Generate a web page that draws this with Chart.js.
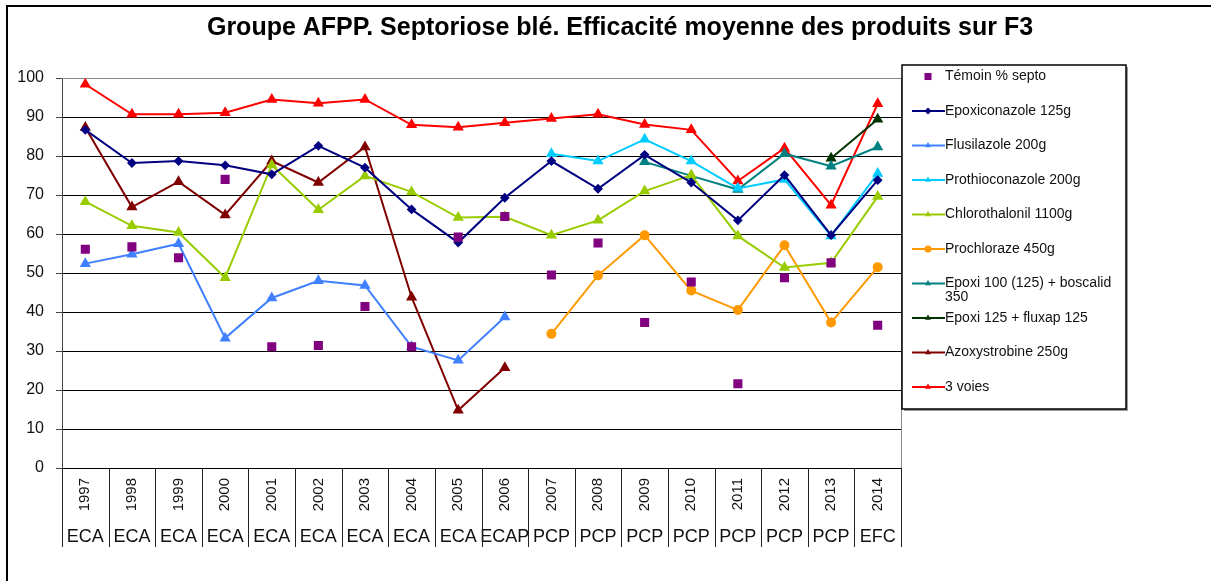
<!DOCTYPE html>
<html>
<head>
<meta charset="utf-8">
<script src="https://cdn.jsdelivr.net/npm/chart.js@4"></script>
<style>
  body { margin: 0; background: #fff; }
  canvas { display: block; }
</style>
</head>
<body>
<canvas id="chart" width="1211" height="581"></canvas>
<script>
const years = ["1997", "1998", "1999", "2000", "2001", "2002", "2003", "2004", "2005",
  "2006", "2007", "2008", "2009", "2010", "2011", "2012", "2013", "2014"];
const groups = ["ECA", "ECA", "ECA", "ECA", "ECA", "ECA", "ECA", "ECA", "ECA",
  "ECAP", "PCP", "PCP", "PCP", "PCP", "PCP", "PCP", "PCP", "EFC"];
const yTicks = [0, 10, 20, 30, 40, 50, 60, 70, 80, 90, 100];

const temoin = [56.1, 56.7, 53.9, 74, 31.1, 31.4, 41.4, 31.1, 59.2, 64.5, 49.5, 57.7, 37.3, 47.7, 21.6, 48.8, 52.6, 36.6];
const epoxiconazole = [86.7, 78.2, 78.7, 77.6, 75.3, 82.6, 77, 66.3, 57.8, 69.3, 78.7, 71.6, 80.3, 73.2, 63.5, 75.1, 59.7, 73.8];
const flusilazole = [52.4, 54.8, 57.5, 33.3, 43.6, 48, 46.8, 31.1, 27.6, 38.7, null, null, null, null, null, null, null, null];
const prothioconazole = [null, null, null, null, null, null, null, null, null, null, 80.6, 78.7, 84.3, 78.7, 71.7, 74, 59.5, 75.5];
const chlorothalonil = [68.3, 62.1, 60.4, 48.8, 77.7, 66.2, 74.9, 70.8, 64.2, 64.4, 59.7, 63.5, 71, 75.1, 59.5, 51.4, 52.6, 69.6];
const prochloraze = [null, null, null, null, null, null, null, null, null, null, 34.4, 49.4, 59.7, 45.5, 40.5, 57.1, 37.3, 51.5];
const epoxiBoscalid = [null, null, null, null, null, null, null, null, null, null, null, null, 78.5, 74.9, 71.4, 80.6, 77.4, 82.3];
const epoxiFluxap = [null, null, null, null, null, null, null, null, null, null, null, null, null, null, null, null, 79.4, 89.4];
const azoxystrobine = [87.3, 66.9, 73.4, 64.9, 78.7, 73.2, 82.3, 43.8, 14.8, 25.7, null, null, null, null, null, null, null, null];
const troisVoies = [98.4, 90.7, 90.7, 91.1, 94.5, 93.5, 94.5, 88, 87.4, 88.5, 89.6, 90.7, 88.1, 86.7, 73.6, 82, 67.4, 93.4];

const FONT = "'Liberation Sans', Arial, sans-serif";

function serie(label, data, color, style, radius) {
  return {
    label: label,
    data: data,
    borderColor: color,
    backgroundColor: color,
    pointBackgroundColor: color,
    pointBorderColor: color,
    pointStyle: style,
    pointRadius: radius,
    pointHoverRadius: radius,
    borderWidth: 2,
    tension: 0,
    spanGaps: false,
  };
}

function marker(ctx, style, x, y, r) {
  ctx.beginPath();
  if (style === "rect") {
    const s = r * Math.SQRT1_2;
    ctx.rect(x - s, y - s, 2 * s, 2 * s);
  } else if (style === "rectRot") {
    ctx.moveTo(x, y - r); ctx.lineTo(x + r, y); ctx.lineTo(x, y + r); ctx.lineTo(x - r, y);
  } else if (style === "triangle") {
    ctx.moveTo(x, y - r);
    ctx.lineTo(x + r * 0.866, y + r * 0.5);
    ctx.lineTo(x - r * 0.866, y + r * 0.5);
  } else {
    ctx.arc(x, y, r, 0, Math.PI * 2);
  }
  ctx.closePath();
  ctx.fill();
}

// cadre, titre, bordures de la zone de tracé
const decor = {
  id: "decor",
  beforeDraw(chart) {
    const ctx = chart.ctx;
    ctx.save();
    ctx.strokeStyle = "#000";
    ctx.lineWidth = 2;
    ctx.beginPath();
    ctx.moveTo(7, 581); ctx.lineTo(7, 6); ctx.lineTo(1211, 6);
    ctx.stroke();
    ctx.fillStyle = "#000";
    ctx.font = "bold 25px " + FONT;
    ctx.textAlign = "center";
    ctx.textBaseline = "middle";
    ctx.fillText("Groupe AFPP. Septoriose blé. Efficacité moyenne des produits sur F3", 620, 28);
    ctx.restore();
  },
  beforeDatasetsDraw(chart) {
    const ctx = chart.ctx;
    const a = chart.chartArea;
    const xs = chart.scales.x;
    const step = xs.getPixelForValue(1) - xs.getPixelForValue(0);
    ctx.save();
    ctx.lineWidth = 1;
    ctx.strokeStyle = "#222";
    ctx.beginPath();
    for (let i = 0; i <= years.length; i++) {
      const px = Math.round(xs.getPixelForValue(i) - step / 2) + 0.5;
      ctx.moveTo(px, a.bottom);
      ctx.lineTo(px, 547);
    }
    ctx.stroke();
    ctx.strokeStyle = "#888";
    ctx.beginPath();
    ctx.moveTo(a.left, Math.round(a.top) + 0.5);
    ctx.lineTo(Math.round(a.right) + 0.5, Math.round(a.top) + 0.5);
    ctx.lineTo(Math.round(a.right) + 0.5, a.bottom);
    ctx.stroke();
    ctx.restore();
  },
  afterDraw(chart) {
    const ctx = chart.ctx;
    const L = 902, T = 65, R = 1126, B = 409;
    ctx.save();
    ctx.fillStyle = "#999";
    ctx.fillRect(L + 2, T + 2, R - L, B - T);
    ctx.fillStyle = "#fff";
    ctx.fillRect(L, T, R - L, B - T);
    ctx.strokeStyle = "#000";
    ctx.lineWidth = 1.5;
    ctx.strokeRect(L, T, R - L, B - T);
    ctx.font = "14px " + FONT;
    ctx.textBaseline = "middle";
    ctx.textAlign = "left";
    chart.data.datasets.forEach((ds, i) => {
      const y = 76.5 + i * 34.5;
      ctx.fillStyle = ds.borderColor;
      ctx.strokeStyle = ds.borderColor;
      if (ds.showLine !== false) {
        ctx.lineWidth = 2;
        ctx.beginPath();
        ctx.moveTo(912, y); ctx.lineTo(945, y);
        ctx.stroke();
      }
      marker(ctx, ds.pointStyle, 928, y, ds.pointStyle === "rect" ? 5 : 3.5);
      // retour à la ligne simple
      ctx.fillStyle = "#111";
      const words = ds.label.split(" ");
      let line = "";
      let ly = y;
      words.forEach((w) => {
        const test = line ? line + " " + w : w;
        if (ctx.measureText(test).width > 176 && line) {
          ctx.fillText(line, 945, ly);
          line = w;
          ly += 14;
        } else {
          line = test;
        }
      });
      ctx.fillText(line, 945, ly);
    });
    ctx.restore();
  },
};

function chartIt() {
  const ctx = document.getElementById("chart");
  const temoinSet = serie("Témoin % septo", temoin, "#800080", "rect", 5);
  temoinSet.showLine = false;

  new Chart(ctx, {
    type: "line",
    data: {
      labels: years,
      datasets: [
        temoinSet,
        serie("Epoxiconazole 125g", epoxiconazole, "#000080", "rectRot", 3.5),
        serie("Flusilazole 200g", flusilazole, "#4080ff", "triangle", 4.5),
        serie("Prothioconazole 200g", prothioconazole, "#00ccff", "triangle", 4.5),
        serie("Chlorothalonil 1100g", chlorothalonil, "#99cc00", "triangle", 4.5),
        serie("Prochloraze 450g", prochloraze, "#ff9900", "circle", 4),
        serie("Epoxi 100 (125) + boscalid 350", epoxiBoscalid, "#008080", "triangle", 4.5),
        serie("Epoxi 125 + fluxap 125", epoxiFluxap, "#003300", "triangle", 4.5),
        serie("Azoxystrobine 250g", azoxystrobine, "#800000", "triangle", 4.5),
        serie("3 voies", troisVoies, "#ff0000", "triangle", 4.5),
      ],
    },
    options: {
      responsive: false,
      animation: false,
      layout: { padding: { left: 0, top: 78, right: 310, bottom: 28 } },
      plugins: {
        legend: { display: false },
        title: { display: false },
        tooltip: { enabled: false },
      },
      scales: {
        y: {
          min: 0,
          max: 100,
          afterBuildTicks: (s) => { s.ticks = yTicks.map((v) => ({ value: v })); },
          afterFit: (s) => { s.width = 62; },
          ticks: { color: "#111", padding: 12, font: { size: 16, family: FONT } },
          grid: {
            color: (c) => (c.tick && c.tick.value === 100 ? "#888" : "#000"),
            tickColor: "#444",
            tickLength: 6,
            lineWidth: 1,
          },
          border: { color: "#444", width: 1 },
        },
        x: {
          offset: true,
          weight: 0,
          afterFit: (s) => { s.height = 49; },
          ticks: {
            autoSkip: false,
            minRotation: 90,
            maxRotation: 90,
            padding: 10,
            color: "#111",
            font: { size: 15, family: FONT },
          },
          grid: { drawOnChartArea: false, drawTicks: false, offset: true },
          border: { color: "#000", width: 1 },
        },
        x2: {
          type: "category",
          position: "bottom",
          labels: groups,
          offset: true,
          weight: 1,
          afterFit: (s) => { s.height = 36; },
          ticks: {
            autoSkip: false,
            maxRotation: 0,
            minRotation: 0,
            padding: 1,
            color: "#111",
            font: { size: 18, family: FONT },
          },
          grid: { display: false },
          border: { display: false },
        },
      },
    },
    plugins: [decor],
  });
}

chartIt();
</script>
</body>
</html>
